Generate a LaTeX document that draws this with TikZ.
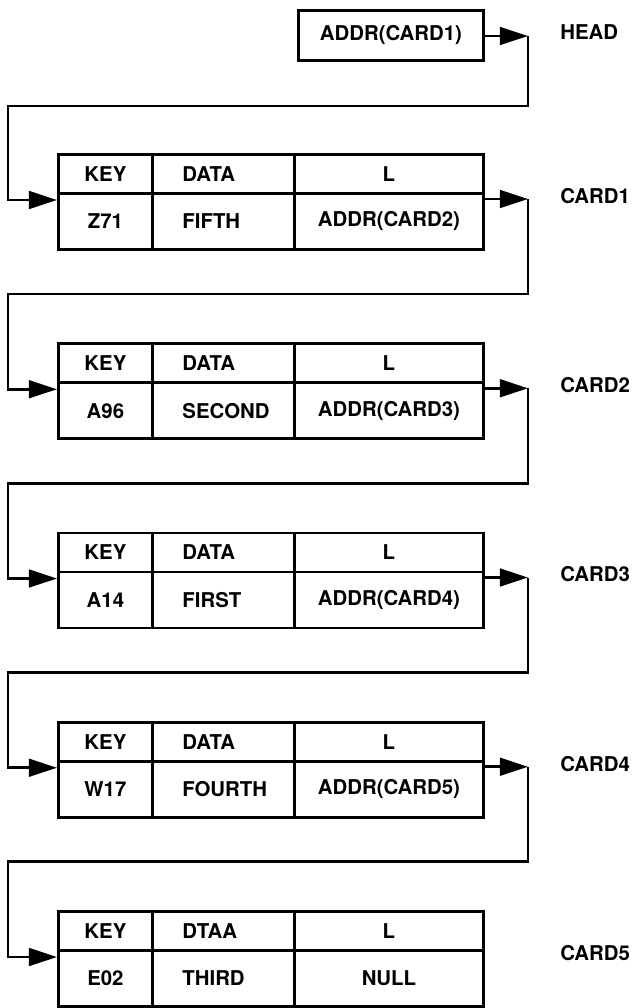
\documentclass[tikz,border=0pt]{standalone}
\usepackage{fontspec}
\setmainfont{TeX Gyre Heros}
\usetikzlibrary{arrows.meta}

\tikzset{
  box/.style={draw, line width=2pt, inner sep=0pt, anchor=north west,
    font=\bfseries\fontsize{14.5}{15}\selectfont},
  keycol/.style={box, minimum width=2.35cm},
  datacol/.style={box, minimum width=3.55cm, text width=2.05cm, align=left},
  linkcol/.style={box, minimum width=4.725cm},
  toprow/.style={minimum height=0.975cm},
  botrow/.style={minimum height=1.4cm},
  tag/.style={anchor=west, inner sep=0pt, font=\bfseries\fontsize{14.5}{15}\selectfont},
  link/.style={line width=2pt, -{Triangle[length=0.7cm,width=0.44cm]}},
}

\begin{document}
\begin{tikzpicture}[x=0.025cm, y=-0.025cm]
    \useasboundingbox (0,0) rectangle (640,1008);

    % head pointer
    \node[box, minimum width=4.625cm, minimum height=1.25cm] (head) at (297,9) {ADDR(CARD1)};
    \node[tag] (headlab) at (560,32) {HEAD};

    % the five cards
    \foreach \i/\h/\k/\d/\l in {1/DATA/Z71/FIFTH/ADDR(CARD2), 2/DATA/A96/SECOND/ADDR(CARD3),
        3/DATA/A14/FIRST/ADDR(CARD4), 4/DATA/W17/FOURTH/ADDR(CARD5), 5/DTAA/E02/THIRD/NULL} {
        \pgfmathsetmacro\ytop{153+(\i-1)*189.25}
        \pgfmathsetmacro\ymid{\ytop+39}
        \node[keycol, toprow] (hk\i) at (57,\ytop) {KEY};
        \node[datacol, toprow] (hd\i) at (151,\ytop) {\mbox{\h}};
        \node[linkcol, toprow] (hl\i) at (293,\ytop) {L};
        \node[keycol, botrow] (vk\i) at (57,\ymid) {\k};
        \node[datacol, botrow] (vd\i) at (151,\ymid) {\mbox{\d}};
        \node[linkcol, botrow] (vl\i) at (293,\ymid) {\l};
        \node[tag] (lab\i) at (560,\ymid+4) {CARD\i};
        \coordinate (e\i) at (57,\ymid+8);
        \coordinate (t\i) at (528,\ymid+7);
    }

    % pointers
    \coordinate (t0) at (528,36);
    \draw[link] (head.east |- t0) -- (t0);
    \draw[link] (t0) |- (8,106) |- (e1);
    \foreach \i/\j in {1/2,2/3,3/4,4/5} {
        \pgfmathsetmacro\yw{294+(\i-1)*189.25}
        \draw[link] (vl\i.east |- t\i) -- (t\i);
        \draw[link] (t\i) |- (8,\yw) |- (e\j);
    }
\end{tikzpicture}
\end{document}
